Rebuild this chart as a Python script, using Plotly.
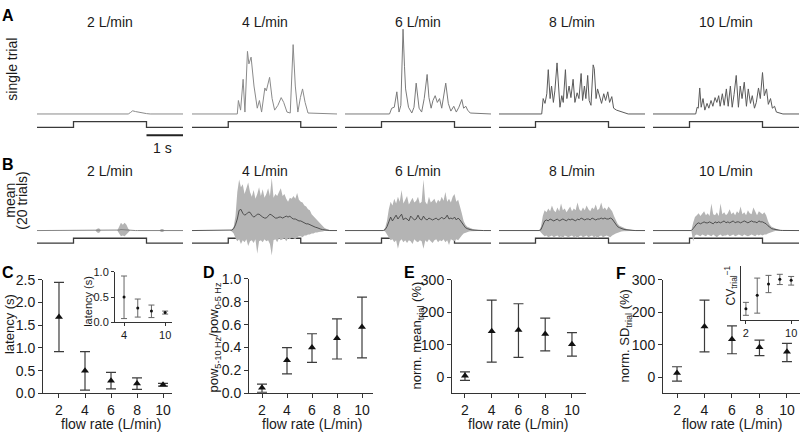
import numpy as np
import plotly.graph_objects as go

W, H = 800, 438
FONT = "Liberation Sans, Arial, Helvetica, sans-serif"
INK = "#1a1a1a"

# ---------------- data ----------------
FLOW = [2, 4, 6, 8, 10]
FLOW_LABELS = ["2 L/min", "4 L/min", "6 L/min", "8 L/min", "10 L/min"]
STIM_ON, STIM_OFF, T_END = 1.0, 3.0, 4.0

# single trials: time (s) and amplitude (a.u.)
a2_t = [0, 2.50, 2.56, 2.62, 2.70, 2.80, 2.90, 3.00, 3.10, 4.0]
a2_v = [0, 0, 1.5, 3.3, 2.5, 1.6, 0.9, 0.4, 0, 0]
a4_t = [0, 1.25, 1.28, 1.34, 1.41, 1.46, 1.53, 1.57, 1.63, 1.71, 1.80, 1.86, 1.92, 2.01, 2.05, 2.14,
        2.21, 2.28, 2.37, 2.46, 2.53, 2.62, 2.71, 2.79, 2.85, 2.92, 2.99, 3.05, 3.12, 3.20, 4.0]
a4_v = [0, 0, 14, 4, 36, 2, 65, 52, 59, 29, 6, 14, 2, 27, 24, 38,
        16, 4, 9, 17, 12, 2, 1, 72, 29, 2, 17, 26, 12, 1, 0]
a6_t = [0, 1.22, 1.28, 1.35, 1.42, 1.48, 1.53, 1.59, 1.63, 1.66, 1.74, 1.83, 1.89, 1.95, 2.03, 2.10,
        2.17, 2.25, 2.30, 2.36, 2.41, 2.47, 2.53, 2.59, 2.65, 2.70, 2.76, 2.83, 2.90, 2.98, 3.05, 3.12,
        3.20, 3.25, 3.31, 3.36, 3.43, 4.0]
a6_v = [0, 0, 6, 7, 23, 2, 9, 88, 49, 26, 7, 1, 7, 32, 6, 2,
        16, 41, 17, 6, 14, 19, 12, 16, 6, 19, 32, 11, 3, 8, 2, 7,
        15, 6, 8, 4, 1, 0]
a8_t = [0, 1.17, 1.21, 1.26, 1.31, 1.35, 1.40, 1.44, 1.49, 1.53, 1.59, 1.63, 1.67, 1.72, 1.76, 1.82,
        1.86, 1.92, 1.97, 2.03, 2.08, 2.14, 2.19, 2.25, 2.29, 2.34, 2.38, 2.43, 2.47, 2.52, 2.58, 2.61,
        2.66, 2.70, 2.76, 2.81, 2.87, 2.92, 2.98, 3.03, 3.09, 3.14, 3.22, 3.36, 3.54, 4.0]
a8_v = [0, 0, 16, 11, 21, 46, 16, 29, 12, 24, 53, 29, 7, 19, 12, 46,
        16, 29, 17, 36, 12, 22, 16, 42, 14, 29, 16, 40, 14, 9, 51, 47,
        16, 26, 16, 11, 21, 14, 23, 12, 18, 6, 4, 2, 0, 0]
a10_t = [0, 1.17, 1.21, 1.24, 1.28, 1.32, 1.37, 1.42, 1.48, 1.53, 1.59, 1.64, 1.70, 1.75, 1.80, 1.84,
         1.90, 1.95, 2.01, 2.06, 2.12, 2.17, 2.22, 2.28, 2.34, 2.39, 2.44, 2.50, 2.56, 2.61, 2.67, 2.72,
         2.78, 2.83, 2.89, 2.94, 3.00, 3.05, 3.11, 3.16, 3.22, 3.27, 3.33, 3.38, 3.56, 4.0]
a10_v = [0, 0, 7, 6, 27, 7, 16, 4, 11, 6, 14, 8, 17, 12, 19, 8,
         21, 9, 26, 8, 29, 7, 20, 40, 7, 29, 16, 33, 8, 26, 11, 19,
         6, 12, 27, 16, 43, 19, 26, 10, 16, 6, 8, 2, 0, 0]
A_T = [a2_t, a4_t, a6_t, a8_t, a10_t]
A_V = [a2_v, a4_v, a6_v, a8_v, a10_v]

# mean of 20 trials with spread, sampled every 50 ms from 1.0 s to 3.8 s
tB = [round(v, 2) for v in np.arange(1.0, 3.8001, 0.05)]
b2_mean = [0, 0, 0, 0, 0, 0, 0, 0, 0, 0,
           0, 0, 0, 0.2, 0.2, 0, 0, 0, 0, 0,
           0, 0, 0, 0, 0, 0.5, 1, 0.8, 1, 0.6,
           0.2, 0, 0, 0, 0, 0, 0, 0, 0, 0,
           0, 0, 0, 0, 0, 0, 0, 0, 0, 0,
           0, 0, 0, 0, 0, 0, 0]
b2_up = [0, 0, 0, 0, 0, 0, 0, 0, 0, 0,
         0, 0, 0, 2, 2.5, 0, 0, 0, 0, 0,
         0, 0, 0, 0, 0, 4, 8, 6, 8, 6,
         2, 0, 0, 0, 0, 0, 0, 0, 0, 0,
         0, 0, 0, 0, 0, 0, 0, 0, 1.5, 1.5,
         0, 0, 0, 0, 0, 0, 0]
b2_lo = [0, 0, 0, 0, 0, 0, 0, 0, 0, 0,
         0, 0, 0, -2, -2.5, 0, 0, 0, 0, 0,
         0, 0, 0, 0, 0, -3, -6, -5, -6, -4,
         -2, 0, 0, 0, 0, 0, 0, 0, 0, 0,
         0, 0, 0, 0, 0, 0, 0, 0, -1.5, -1.5,
         0, 0, 0, 0, 0, 0, 0]
b4_mean = [0, 0, 0.5, 2, 6, 12, 21, 22, 18, 16,
           17, 19, 19, 16, 14, 15, 17, 17, 15, 14,
           13, 13, 15, 17, 16, 14, 13, 13, 14, 14,
           13, 14, 15, 14, 15, 13, 12, 12, 11, 10,
           10, 9, 8, 7, 7, 6, 5, 4, 3.5, 3,
           2, 1.5, 1, 0.7, 0.4, 0.2, 0]
b4_up = [0, 0, 1, 4, 15, 40, 53, 45, 48, 38,
         44, 50, 40, 35, 42, 33, 38, 45, 36, 43,
         34, 38, 44, 36, 55, 34, 38, 36, 40, 44,
         36, 38, 33, 30, 34, 33, 36, 33, 39, 32,
         30, 29, 26, 25, 22, 21, 17, 15, 12, 10,
         8, 6, 4, 3, 2, 1, 0.5]
b4_lo = [0, 0, -1, -3, -8, -11, -9, -14, -10, -12,
         -9, -16, -11, -10, -13, -9, -24, -11, -10, -12,
         -9, -11, -10, -14, -26, -10, -9, -12, -8, -10,
         -9, -8, -11, -8, -9, -7, -8, -9, -7, -6,
         -6, -7, -5, -5, -4, -4, -3, -3, -2, -2,
         -1.5, -1, -1, -0.5, -0.5, -0.3, 0]
b6_mean = [0, 0, 1, 4, 9, 14, 10, 13, 16, 12,
           14, 17, 11, 13, 12, 10, 15, 13, 11, 12,
           16, 12, 11, 15, 12, 11, 13, 12, 11, 12,
           13, 11, 12, 14, 12, 13, 16, 12, 13, 12,
           14, 11, 13, 11, 8, 5, 3, 2, 1.2, 0.8,
           0.5, 0.3, 0.2, 0.1, 0, 0, 0]
b6_up = [0, 0, 3, 10, 22, 30, 26, 33, 28, 35,
         30, 42, 28, 32, 36, 27, 30, 34, 29, 31,
         35, 28, 30, 53, 30, 27, 35, 29, 31, 33,
         28, 32, 30, 35, 31, 40, 30, 33, 29, 35,
         38, 30, 32, 26, 18, 10, 6, 4, 3, 2,
         1.5, 1, 0.6, 0.4, 0.2, 0.1, 0]
b6_lo = [0, 0, -1, -4, -7, -10, -9, -12, -10, -19,
         -11, -9, -12, -10, -13, -10, -11, -14, -9, -11,
         -12, -10, -11, -19, -10, -12, -9, -11, -13, -10,
         -9, -12, -10, -11, -9, -12, -10, -15, -9, -10,
         -11, -9, -10, -8, -5, -3, -2, -1.5, -1, -0.6,
         -0.4, -0.2, -0.1, 0, 0, 0, 0]
b8_mean = [0, 0, 0, 1, 6, 10, 11, 10, 12, 11,
           10, 11, 12, 10, 11, 12, 11, 10, 12, 11,
           12, 11, 10, 12, 11, 13, 12, 11, 12, 12,
           11, 13, 12, 11, 12, 12, 13, 12, 13, 12,
           12, 13, 12, 9, 6, 4, 3, 2, 1.5, 1,
           0.7, 0.4, 0.3, 0.2, 0.1, 0, 0]
b8_up = [0, 0, 0, 4, 15, 21, 19, 23, 20, 26,
         21, 19, 24, 20, 28, 21, 23, 19, 22, 25,
         20, 23, 21, 29, 22, 20, 24, 21, 26, 22,
         20, 24, 22, 27, 21, 23, 29, 22, 24, 21,
         25, 22, 20, 15, 10, 7, 5, 4, 3, 2,
         1.5, 1, 0.6, 0.4, 0.2, 0.1, 0]
b8_lo = [0, 0, 0, -2, -4, -6, -5, -7, -6, -5,
         -7, -6, -5, -7, -6, -8, -5, -6, -7, -6,
         -5, -7, -6, -8, -6, -5, -7, -6, -5, -7,
         -6, -5, -7, -6, -8, -6, -5, -7, -6, -5,
         -6, -7, -5, -4, -3, -2, -1.5, -1, -0.6, -0.4,
         -0.3, -0.2, -0.1, 0, 0, 0, 0]
b10_mean = [0, 0, 2, 5, 7, 8, 7, 8, 9, 8,
            8, 9, 8, 7, 9, 8, 9, 8, 9, 10,
            8, 9, 8, 9, 10, 8, 9, 9, 8, 9,
            10, 9, 8, 9, 10, 9, 9, 8, 10, 9,
            9, 8, 7, 5, 3, 2, 1.5, 1, 0.5, 0.3,
            0.2, 0.1, 0, 0, 0, 0, 0]
b10_up = [0, 0, 8, 14, 16, 18, 15, 17, 20, 16,
          18, 15, 28, 17, 16, 19, 15, 28, 17, 19,
          16, 18, 22, 17, 19, 16, 20, 18, 25, 17,
          19, 16, 21, 18, 17, 24, 19, 16, 20, 18,
          17, 19, 16, 10, 6, 4, 3, 2, 1, 0.6,
          0.4, 0.2, 0, 0, 0, 0, 0]
b10_lo = [0, 0, -11, -5, -4, -5, -6, -4, -5, -6,
          -4, -5, -6, -4, -5, -7, -5, -4, -6, -5,
          -5, -4, -6, -5, -4, -6, -5, -4, -5, -6,
          -4, -5, -6, -5, -4, -5, -6, -4, -5, -4,
          -5, -4, -4, -3, -2, -1.5, -1, -0.5, -0.3, -0.2,
          -0.1, 0, 0, 0, 0, 0, 0]
B_MEAN = [b2_mean, b4_mean, b6_mean, b8_mean, b10_mean]
B_UP = [b2_up, b4_up, b6_up, b8_up, b10_up]
B_LO = [b2_lo, b4_lo, b6_lo, b8_lo, b10_lo]

# summary statistics (mean, lower and upper error)
lat_mean = [1.68, 0.50, 0.28, 0.22, 0.19]
lat_lo = [0.92, 0.07, 0.10, 0.09, 0.16]
lat_hi = [2.44, 0.92, 0.46, 0.34, 0.22]
pow_mean = [0.05, 0.29, 0.40, 0.48, 0.58]
pow_lo = [0.01, 0.17, 0.27, 0.30, 0.31]
pow_hi = [0.08, 0.40, 0.52, 0.65, 0.84]
nmean_mean = [4, 141, 145, 133, 101]
nmean_lo = [-10, 46, 61, 81, 65]
nmean_hi = [16, 237, 226, 182, 137]
nsd_mean = [13, 156, 117, 92, 78]
nsd_lo = [-12, 78, 72, 66, 48]
nsd_hi = [32, 237, 158, 114, 104]
cv_mean = [0.21, 0.46, 0.67, 0.76, 0.74]
cv_lo = [0.09, 0.13, 0.51, 0.66, 0.65]
cv_hi = [0.33, 0.78, 0.83, 0.85, 0.81]

# ---------------- layout helpers ----------------
COL_X = [(37, 183), (192, 337), (345, 491), (499, 645), (653, 799)]
A_TOP, A_BOT, A_BASE = 20, 134, 110
B_TOP, B_BOT, B_BASE = 172, 258, 231
A_STIM = (-14, -8)
B_STIM = (-13, -8)
SCALEBAR_Y = -22
A_COLORS = ["#8a8a8a", "#8a8a8a", "#7a7a7a", "#5a5a5a", "#5a5a5a"]


def xd(x0, x1):
    return [x0 / W, x1 / W]


def yd(top, bot):
    return [1 - bot / H, 1 - top / H]


fig = go.Figure()
layout = {}
shapes = []
annotations = []


def ann(text, x, y, size=14, angle=0, bold=False, color=INK):
    annotations.append(dict(text=("<b>%s</b>" % text) if bold else text,
                            x=x / W, y=1 - y / H, xref="paper", yref="paper",
                            showarrow=False, textangle=angle,
                            xanchor="center", yanchor="middle",
                            font=dict(family=FONT, size=size, color=color)))


def hidden_axes(n, xdom, ydom, xr, yr):
    sfx = "" if n == 1 else str(n)
    layout["xaxis" + sfx] = dict(domain=xdom, range=xr, visible=False,
                                 anchor="y" + sfx, fixedrange=True)
    layout["yaxis" + sfx] = dict(domain=ydom, range=yr, visible=False,
                                 anchor="x" + sfx, fixedrange=True)
    return "x" + sfx, "y" + sfx


def real_axes(n, xdom, ydom, xr, yr, xticks, xticktext, yticks, yticktext,
              size=14, ticklen=4, show_yticks=True):
    sfx = str(n)
    common = dict(showline=True, linecolor="#333", linewidth=1, showgrid=False,
                  zeroline=False, ticks="outside", ticklen=ticklen, tickwidth=1,
                  tickcolor="#333", tickfont=dict(family=FONT, size=size, color=INK),
                  fixedrange=True)
    layout["xaxis" + sfx] = dict(domain=xdom, range=xr, anchor="y" + sfx,
                                 tickmode="array", tickvals=xticks,
                                 ticktext=xticktext, **common)
    yc = dict(common)
    if show_yticks:
        layout["yaxis" + sfx] = dict(domain=ydom, range=yr, anchor="x" + sfx,
                                     tickmode="array", tickvals=yticks,
                                     ticktext=yticktext, **yc)
    else:
        yc["ticks"] = ""
        yc["showticklabels"] = False
        layout["yaxis" + sfx] = dict(domain=ydom, range=yr, anchor="x" + sfx, **yc)
    return "x" + sfx, "y" + sfx


def stim_trace(xa, ya, lv):
    lo, hi = lv
    fig.add_trace(go.Scatter(
        x=[0, STIM_ON, STIM_ON, STIM_OFF, STIM_OFF, T_END],
        y=[lo, lo, hi, hi, lo, lo], mode="lines",
        line=dict(color="#3a3a3a", width=1.3), xaxis=xa, yaxis=ya,
        hoverinfo="skip", showlegend=False))


# ---------------- row A: single trials ----------------
for i in range(5):
    x0, x1 = COL_X[i]
    xa, ya = hidden_axes(1 + i, xd(x0, x1), yd(A_TOP, A_BOT), [0, T_END],
                         [-(A_BOT - A_BASE), A_BASE - A_TOP])
    stim_trace(xa, ya, A_STIM)
    fig.add_trace(go.Scatter(x=A_T[i], y=A_V[i], mode="lines",
                             line=dict(color=A_COLORS[i], width=1),
                             xaxis=xa, yaxis=ya, hoverinfo="skip", showlegend=False))
    ann(FLOW_LABELS[i], (x0 + x1) / 2, 15, size=14)

# scale bar (1 s) under first column
shapes.append(dict(type="line", xref="x", yref="y", x0=STIM_OFF, x1=T_END,
                   y0=SCALEBAR_Y, y1=SCALEBAR_Y, line=dict(color="#222", width=2)))
ann("1 s", 162, 145, size=14)

# ---------------- row B: mean of 20 trials ----------------
for i in range(5):
    x0, x1 = COL_X[i]
    xa, ya = hidden_axes(6 + i, xd(x0, x1), yd(B_TOP, B_BOT), [0, T_END],
                         [-(B_BOT - B_BASE), B_BASE - B_TOP])
    stim_trace(xa, ya, B_STIM)
    tt = [0] + tB + [T_END]
    up = [0] + B_UP[i] + [0]
    lo = [0] + B_LO[i] + [0]
    fig.add_trace(go.Scatter(x=tt + tt[::-1], y=up + lo[::-1], mode="lines",
                             fill="toself", fillcolor="#b4b4b4",
                             line=dict(width=0, color="#b4b4b4"),
                             xaxis=xa, yaxis=ya, hoverinfo="skip", showlegend=False))
    fig.add_trace(go.Scatter(x=tt, y=[0] + B_MEAN[i] + [0], mode="lines",
                             line=dict(color="#444" if i else "#777", width=0.9),
                             xaxis=xa, yaxis=ya, hoverinfo="skip", showlegend=False))
    ann(FLOW_LABELS[i], (x0 + x1) / 2, 169, size=14)


# ---------------- bottom statistics panels ----------------
def errpoints(xa, ya, x, m, lo, hi, inset=False):
    fig.add_trace(go.Scatter(
        x=x, y=m, mode="markers",
        marker=dict(symbol="circle" if inset else "triangle-up",
                    size=3 if inset else 7, color="#111"),
        error_y=dict(type="data", symmetric=False,
                     array=[h - v for h, v in zip(hi, m)],
                     arrayminus=[v - l for v, l in zip(m, lo)],
                     thickness=1 if inset else 1.2, width=3 if inset else 5,
                     color="#666" if inset else "#3c3c3c"),
        xaxis=xa, yaxis=ya, hoverinfo="skip", showlegend=False))


flow_txt = [str(f) for f in FLOW]

# C main
xa, ya = real_axes(11, xd(43, 172), yd(282, 400), [0.77, 10.69], [0, 2.5],
                   FLOW, flow_txt, [0, 0.5, 1.0, 1.5, 2.0, 2.5],
                   ["0.0", "0.5", "1.0", "1.5", "2.0", "2.5"])
errpoints(xa, ya, FLOW, lat_mean, lat_lo, lat_hi)
# C inset
xa, ya = real_axes(12, xd(115, 172), yd(274, 326), [2.68, 11.0], [0, 1.0],
                   [4, 10], ["4", "10"], [0, 0.5, 1.0], ["0.0", "0.5", "1.0"],
                   size=11, ticklen=3)
errpoints(xa, ya, FLOW[1:], lat_mean[1:], lat_lo[1:], lat_hi[1:], inset=True)

# D
xa, ya = real_axes(13, xd(249, 373), yd(281, 400), [0.96, 10.88], [0, 1.0],
                   FLOW, flow_txt, [0, 0.2, 0.4, 0.6, 0.8, 1.0],
                   ["0.0", "0.2", "0.4", "0.6", "0.8", "1.0"])
errpoints(xa, ya, FLOW, pow_mean, pow_lo, pow_hi)

# E
xa, ya = real_axes(14, xd(452, 586), yd(282, 400), [1.03, 11.05], [-50, 300],
                   FLOW, flow_txt, [0, 100, 200, 300], ["0", "100", "200", "300"])
errpoints(xa, ya, FLOW, nmean_mean, nmean_lo, nmean_hi)

# F
xa, ya = real_axes(15, xd(663, 800), yd(282, 400), [0.98, 10.95], [-50, 300],
                   FLOW, flow_txt, [0, 100, 200, 300], ["0", "100", "200", "300"])
errpoints(xa, ya, FLOW, nsd_mean, nsd_lo, nsd_hi)
# F inset
xa, ya = real_axes(16, xd(741, 799), yd(268, 324), [1.13, 11.39], [0, 1.0],
                   [2, 10], ["2", "10"], None, None, size=11, ticklen=3,
                   show_yticks=False)
errpoints(xa, ya, FLOW, cv_mean, cv_lo, cv_hi, inset=True)

# axis titles
for cx in (111, 312, 518, 732):
    ann("flow rate (L/min)", cx, 432, size=14)
ann("latency (s)", 9, 328, size=13, angle=-90)
ann("latency (s)", 88, 305, size=11, angle=-90)
ann("pow<sub>5-10 Hz</sub>/pow<sub>0-5 Hz</sub>", 215, 342, size=13, angle=-90)
ann("norm. mean<sub>trial</sub> (%)", 418, 340, size=13, angle=-90)
ann("norm. SD<sub>trial</sub> (%)", 626, 341, size=13, angle=-90)
ann("CV<sub>trial</sub><sup>−1</sup>", 731, 288, size=12, angle=-90)

# row labels
ann("single trial", 12, 64, size=14, angle=-90)
ann("mean", 10, 200, size=14, angle=-90)
ann("(20 trials)", 22, 200, size=14, angle=-90)

# panel letters
for lab, x, y in (("A", 8, 8), ("B", 8, 162), ("C", 8, 275), ("D", 209, 275),
                  ("E", 410, 275), ("F", 621, 276)):
    ann(lab, x, y, size=16, bold=True, color="#000")

fig.update_layout(width=W, height=H, autosize=False,
                  margin=dict(l=0, r=0, t=0, b=0, pad=0),
                  paper_bgcolor="white", plot_bgcolor="rgba(0,0,0,0)",
                  shapes=shapes, annotations=annotations,
                  font=dict(family=FONT, size=14, color=INK), **layout)

fig.write_html("out.html", config={"displayModeBar": False, "staticPlot": True},
               post_script="document.body.style.margin='0';document.body.style.padding='0';"
                           "document.documentElement.style.overflow='hidden';")
